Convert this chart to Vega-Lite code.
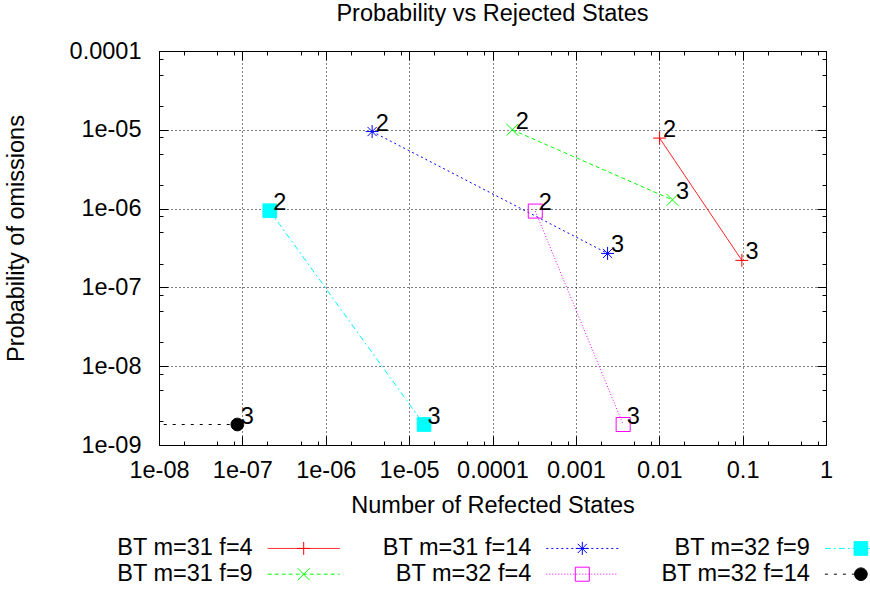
{
  "$schema": "https://vega.github.io/schema/vega-lite/v6.json",
  "width": 667,
  "height": 394,
  "autosize": {"type": "none"},
  "padding": {"left": 159, "top": 51, "right": 44, "bottom": 145},
  "background": "white",
  "config": {
    "view": {"stroke": "#000000", "strokeWidth": 1},
    "font": "Liberation Sans"
  },
  "title": {
    "text": "Probability vs Rejected States",
    "fontSize": 23.5,
    "fontWeight": "normal",
    "font": "Liberation Sans",
    "color": "#000000",
    "anchor": "middle",
    "frame": "group",
    "offset": 13.5
  },
  "data": {
    "values": [
      {"series": "BT m=31 f=4", "x": 0.0101, "y": 7.85e-6, "k": "2"},
      {"series": "BT m=31 f=4", "x": 0.098, "y": 2.2e-7, "k": "3"},
      {"series": "BT m=31 f=9", "x": 0.000173, "y": 1.0e-5, "k": "2"},
      {"series": "BT m=31 f=9", "x": 0.0144, "y": 1.29e-6, "k": "3"},
      {"series": "BT m=31 f=14", "x": 3.6e-6, "y": 9.5e-6, "k": "2"},
      {"series": "BT m=31 f=14", "x": 0.0024, "y": 2.7e-7, "k": "3"},
      {"series": "BT m=32 f=4", "x": 0.000326, "y": 9.3e-7, "k": "2"},
      {"series": "BT m=32 f=4", "x": 0.00369, "y": 1.82e-9, "k": "3"},
      {"series": "BT m=32 f=9", "x": 2.13e-7, "y": 9.4e-7, "k": "2"},
      {"series": "BT m=32 f=9", "x": 1.51e-5, "y": 1.82e-9, "k": "3"},
      {"series": "BT m=32 f=14", "x": 2e-9, "y": 1.82e-9, "k": "2"},
      {"series": "BT m=32 f=14", "x": 8.7e-8, "y": 1.82e-9, "k": "3"}
    ]
  },
  "layer": [
    {
      "mark": {"type": "line", "clip": true, "strokeWidth": 1},
      "encoding": {
        "x": {
          "field": "x", "type": "quantitative",
          "scale": {"type": "log", "domain": [1e-8, 1], "nice": false},
          "axis": {
            "orient": "bottom",
            "values": [1e-8, 2e-8, 5e-8, 8e-8, 1e-7, 2e-7, 5e-7, 8e-7, 1e-6, 2e-6, 5e-6, 8e-6, 1e-5, 2e-5, 5e-5, 8e-5, 0.0001, 0.0002, 0.0005, 0.0008, 0.001, 0.002, 0.005, 0.008, 0.01, 0.02, 0.05, 0.08, 0.1, 0.2, 0.5, 0.8, 1],
            "labelExpr": "abs(log(datum.value)/LN10 - round(log(datum.value)/LN10)) < 0.01 ? (datum.value < 0.00005 ? '1e-0' + round(-log(datum.value)/LN10) : '' + datum.value) : ''",
            "labelFontSize": 23.5,
            "labelFont": "Liberation Sans",
            "labelColor": "#000000",
            "labelBaseline": "alphabetic",
            "labelAngle": 0,
            "labelPadding": 41.7,
            "labelOverlap": false,
            "labelFlush": false,
            "tickColor": "#000000",
            "tickWidth": 1,
            "tickSize": {"condition": {"test": "abs(log(datum.value)/LN10 - round(log(datum.value)/LN10)) < 0.01", "value": -9}, "value": -4},
            "grid": true,
            "gridColor": "#000000",
            "gridDash": [1, 3],
            "gridWidth": 1,
            "gridOpacity": {"condition": {"test": "abs(log(datum.value)/LN10 - round(log(datum.value)/LN10)) < 0.01", "value": 1}, "value": 0},
            "domain": false,
            "title": "Number of Refected States",
            "titleFontSize": 23.5,
            "titleFont": "Liberation Sans",
            "titleFontWeight": "normal",
            "titleColor": "#000000",
            "titleBaseline": "alphabetic",
            "titleY": 67.3
          }
        },
        "y": {
          "field": "y", "type": "quantitative",
          "scale": {"type": "log", "domain": [1e-9, 0.0001], "nice": false},
          "axis": {
            "orient": "left",
            "values": [1e-9, 2e-9, 5e-9, 8e-9, 1e-8, 2e-8, 5e-8, 8e-8, 1e-7, 2e-7, 5e-7, 8e-7, 1e-6, 2e-6, 5e-6, 8e-6, 1e-5, 2e-5, 5e-5, 8e-5, 0.0001],
            "labelExpr": "abs(log(datum.value)/LN10 - round(log(datum.value)/LN10)) < 0.01 ? (datum.value < 0.00005 ? '1e-0' + round(-log(datum.value)/LN10) : '' + datum.value) : ''",
            "labelFontSize": 23.5,
            "labelFont": "Liberation Sans",
            "labelColor": "#000000",
            "labelBaseline": "middle",
            "labelAlign": "right",
            "labelPadding": 27,
            "labelOverlap": false,
            "labelFlush": false,
            "tickColor": "#000000",
            "tickWidth": 1,
            "tickSize": {"condition": {"test": "abs(log(datum.value)/LN10 - round(log(datum.value)/LN10)) < 0.01", "value": -9}, "value": -4},
            "grid": true,
            "gridColor": "#000000",
            "gridDash": [1, 3],
            "gridWidth": 1,
            "gridOpacity": {"condition": {"test": "abs(log(datum.value)/LN10 - round(log(datum.value)/LN10)) < 0.01", "value": 1}, "value": 0},
            "domain": false,
            "title": "Probability of omissions",
            "titleFontSize": 23.5,
            "titleFont": "Liberation Sans",
            "titleFontWeight": "normal",
            "titleColor": "#000000",
            "titleAngle": -90,
            "titleAlign": "center",
            "titleBaseline": "alphabetic",
            "titleX": -135.7,
            "titleY": 187
          }
        },
        "color": {
          "field": "series", "type": "nominal",
          "scale": {
            "domain": ["BT m=32 f=14", "BT m=32 f=9", "BT m=32 f=4", "BT m=31 f=14", "BT m=31 f=9", "BT m=31 f=4"],
            "range": ["#000000", "#00ffff", "#ff00ff", "#0000ff", "#00ff00", "#ff0000"]
          },
          "legend": {
            "values": ["BT m=31 f=4", "BT m=31 f=9", "BT m=31 f=14", "BT m=32 f=4", "BT m=32 f=9", "BT m=32 f=14"],
            "orient": "none",
            "legendX": 132.7,
            "legendY": 485.2,
            "columns": 3,
            "gridAlign": "all",
            "title": null,
            "symbolType": "M-3.13,0H3.13",
            "symbolSize": 529,
            "symbolStrokeWidth": 1,
            "labelAlign": "right",
            "labelBaseline": "middle",
            "labelOffset": -63,
            "labelFontSize": 23.5,
            "labelFont": "Liberation Sans",
            "labelColor": "#000000",
            "labelLimit": 400,
            "columnPadding": 40.6,
            "rowPadding": 2,
            "padding": 0
          }
        },
        "strokeDash": {
          "field": "series", "type": "nominal",
          "scale": {
            "domain": ["BT m=32 f=14", "BT m=32 f=9", "BT m=32 f=4", "BT m=31 f=14", "BT m=31 f=9", "BT m=31 f=4"],
            "range": [[3, 6], [6, 3, 2, 3], [1, 2], [2, 3], [4, 3], [1, 0]]
          },
          "legend": {
            "values": ["BT m=31 f=4", "BT m=31 f=9", "BT m=31 f=14", "BT m=32 f=4", "BT m=32 f=9", "BT m=32 f=14"],
            "orient": "none",
            "legendX": 132.7,
            "legendY": 485.2,
            "columns": 3,
            "gridAlign": "all",
            "title": null,
            "symbolType": "M-3.13,0H3.13",
            "symbolSize": 529,
            "symbolStrokeWidth": 1,
            "labelAlign": "right",
            "labelBaseline": "middle",
            "labelOffset": -63,
            "labelFontSize": 23.5,
            "labelFont": "Liberation Sans",
            "labelColor": "#000000",
            "labelLimit": 400,
            "columnPadding": 40.6,
            "rowPadding": 2,
            "padding": 0
          }
        }
      }
    },
    {
      "mark": {"type": "point", "clip": true, "size": 529, "strokeWidth": 1, "opacity": 1},
      "encoding": {
        "x": {"field": "x", "type": "quantitative", "axis": null},
        "y": {"field": "y", "type": "quantitative", "axis": null},
        "stroke": {
          "field": "series", "type": "nominal",
          "scale": {
            "domain": ["BT m=31 f=4", "BT m=31 f=9", "BT m=31 f=14", "BT m=32 f=4", "BT m=32 f=9", "BT m=32 f=14"],
            "range": ["#ff0000", "#00ff00", "#0000ff", "#ff00ff", "#00ffff", "#000000"]
          },
          "legend": {
            "orient": "none",
            "legendX": 132.7,
            "legendY": 485.2,
            "columns": 3,
            "gridAlign": "all",
            "title": null,
            "symbolSize": 529,
            "symbolStrokeWidth": 1,
            "symbolOpacity": 1,
            "labelAlign": "right",
            "labelBaseline": "middle",
            "labelOffset": -63,
            "labelFontSize": 23.5,
            "labelFont": "Liberation Sans",
            "labelColor": "transparent",
            "labelLimit": 400,
            "columnPadding": 40.6,
            "rowPadding": 2,
            "padding": 0
          }
        },
        "fill": {
          "field": "series", "type": "nominal",
          "scale": {
            "domain": ["BT m=31 f=4", "BT m=31 f=9", "BT m=31 f=14", "BT m=32 f=4", "BT m=32 f=9", "BT m=32 f=14"],
            "range": ["transparent", "transparent", "transparent", "transparent", "#00ffff", "#000000"]
          },
          "legend": {
            "orient": "none",
            "legendX": 132.7,
            "legendY": 485.2,
            "columns": 3,
            "gridAlign": "all",
            "title": null,
            "symbolSize": 529,
            "symbolStrokeWidth": 1,
            "symbolOpacity": 1,
            "labelAlign": "right",
            "labelBaseline": "middle",
            "labelOffset": -63,
            "labelFontSize": 23.5,
            "labelFont": "Liberation Sans",
            "labelColor": "transparent",
            "labelLimit": 400,
            "columnPadding": 40.6,
            "rowPadding": 2,
            "padding": 0
          }
        },
        "shape": {
          "field": "series", "type": "nominal",
          "scale": {
            "domain": ["BT m=31 f=4", "BT m=31 f=9", "BT m=31 f=14", "BT m=32 f=4", "BT m=32 f=9", "BT m=32 f=14"],
            "range": [
              "M-3.13,0M3.13,0M-0.565,0H0.565M0,-0.565V0.565",
              "M-3.13,0M3.13,0M-0.52,-0.52L0.52,0.52M-0.52,0.52L0.52,-0.52",
              "M-3.13,0M3.13,0M-0.565,0H0.565M0,-0.565V0.565M-0.4,-0.4L0.4,0.4M-0.4,0.4L0.4,-0.4",
              "M-3.13,0M3.13,0M-0.61,-0.61H0.61V0.61H-0.61Z",
              "M-3.13,0M3.13,0M-0.595,-0.595H0.595V0.595H-0.595Z",
              "M-3.13,0M3.13,0M-0.55,0A0.55,0.55,0,1,1,0.55,0A0.55,0.55,0,1,1,-0.55,0Z"
            ]
          },
          "legend": {
            "orient": "none",
            "legendX": 132.7,
            "legendY": 485.2,
            "columns": 3,
            "gridAlign": "all",
            "title": null,
            "symbolSize": 529,
            "symbolStrokeWidth": 1,
            "symbolOpacity": 1,
            "labelAlign": "right",
            "labelBaseline": "middle",
            "labelOffset": -63,
            "labelFontSize": 23.5,
            "labelFont": "Liberation Sans",
            "labelColor": "transparent",
            "labelLimit": 400,
            "columnPadding": 40.6,
            "rowPadding": 2,
            "padding": 0
          }
        }
      }
    },
    {
      "mark": {"type": "text", "clip": true, "align": "left", "baseline": "alphabetic", "dx": 3.5, "dy": -1, "fontSize": 23.5, "font": "Liberation Sans", "color": "#000000"},
      "encoding": {
        "x": {
          "field": "x", "type": "quantitative",
          "axis": {
            "orient": "top",
            "values": [1e-8, 2e-8, 5e-8, 8e-8, 1e-7, 2e-7, 5e-7, 8e-7, 1e-6, 2e-6, 5e-6, 8e-6, 1e-5, 2e-5, 5e-5, 8e-5, 0.0001, 0.0002, 0.0005, 0.0008, 0.001, 0.002, 0.005, 0.008, 0.01, 0.02, 0.05, 0.08, 0.1, 0.2, 0.5, 0.8, 1],
            "labels": false,
            "grid": false,
            "domain": false,
            "title": null,
            "tickColor": "#000000",
            "tickWidth": 1,
            "tickSize": {"condition": {"test": "abs(log(datum.value)/LN10 - round(log(datum.value)/LN10)) < 0.01", "value": -9}, "value": -4}
          }
        },
        "y": {
          "field": "y", "type": "quantitative",
          "axis": {
            "orient": "right",
            "values": [1e-9, 2e-9, 5e-9, 8e-9, 1e-8, 2e-8, 5e-8, 8e-8, 1e-7, 2e-7, 5e-7, 8e-7, 1e-6, 2e-6, 5e-6, 8e-6, 1e-5, 2e-5, 5e-5, 8e-5, 0.0001],
            "labels": false,
            "grid": false,
            "domain": false,
            "title": null,
            "tickColor": "#000000",
            "tickWidth": 1,
            "tickSize": {"condition": {"test": "abs(log(datum.value)/LN10 - round(log(datum.value)/LN10)) < 0.01", "value": -9}, "value": -4}
          }
        },
        "text": {"field": "k", "type": "nominal"}
      }
    }
  ],
  "resolve": {"axis": {"x": "independent", "y": "independent"}}
}
